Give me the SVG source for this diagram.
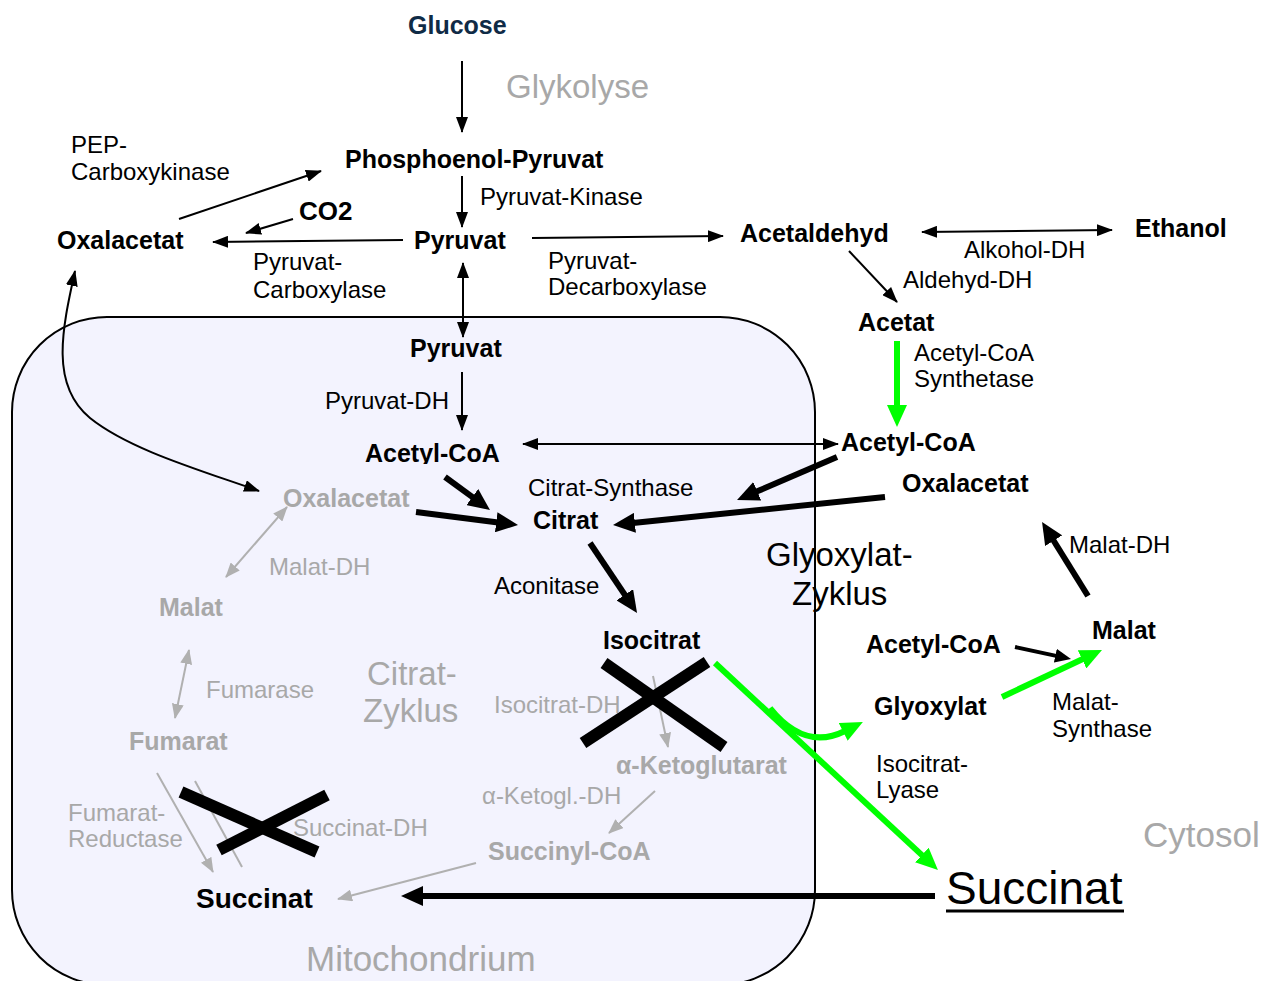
<svg xmlns="http://www.w3.org/2000/svg" width="1274" height="981" viewBox="0 0 1274 981">
  <style>
    text { font-family: "Liberation Sans", Arial, sans-serif; }
    .met { font-size: 25px; font-weight: bold; fill: #000; }
    .enz { font-size: 24px; fill: #000; }
    .title { font-size: 33px; fill: #000; }
    .grey { fill: #a8a8a8; }
    .thin { stroke: #000; stroke-width: 2; fill: none; }
    .thick { stroke: #000; stroke-width: 6; fill: none; }
    .mid { stroke: #000; stroke-width: 4; fill: none; }
    .green { stroke: #00ff00; stroke-width: 6; fill: none; }
    .gline { stroke: #b0b0b0; stroke-width: 2; fill: none; }
    .cross { stroke: #000; stroke-width: 12; }
  </style>
  <defs>
    <marker id="ah" markerUnits="userSpaceOnUse" markerWidth="16" markerHeight="12" refX="15" refY="6" orient="auto-start-reverse">
      <path d="M0,0 L16,6 L0,12 z" fill="#000"/>
    </marker>
    <marker id="ahGrey" markerUnits="userSpaceOnUse" markerWidth="15" markerHeight="12" refX="14" refY="6" orient="auto-start-reverse">
      <path d="M0,0 L15,6 L0,12 z" fill="#b0b0b0"/>
    </marker>
    <marker id="ahBold" markerUnits="userSpaceOnUse" markerWidth="22" markerHeight="20" refX="2" refY="10" orient="auto">
      <path d="M0,0 L22,10 L0,20 z" fill="#000"/>
    </marker>
    <marker id="ahMid" markerUnits="userSpaceOnUse" markerWidth="16" markerHeight="14" refX="2" refY="7" orient="auto">
      <path d="M0,0 L16,7 L0,14 z" fill="#000"/>
    </marker>
    <marker id="ahGreen" markerUnits="userSpaceOnUse" markerWidth="22" markerHeight="20" refX="2" refY="10" orient="auto">
      <path d="M0,0 L22,10 L0,20 z" fill="#00ff00"/>
    </marker>
    <clipPath id="clipAcoA">
      <rect x="350" y="430" width="170" height="34"/>
    </clipPath>
  </defs>

  <rect width="1274" height="981" fill="#fff"/>

  <!-- Mitochondrion compartment (runs off the lower edge) -->
  <g id="mitochondrium">
    <rect x="12" y="317" width="803" height="668" rx="95" ry="95" fill="#f3f3fe" stroke="#000" stroke-width="2"/>
    <text x="306" y="971" style="font-size:35px" class="grey">Mitochondrium</text>
  </g>

  <!-- Compartment / pathway titles -->
  <g id="titles">
    <text x="506" y="98" style="font-size:33px" class="grey">Glykolyse</text>
    <text x="1143" y="847" style="font-size:35px" class="grey">Cytosol</text>
    <text x="367" y="685" class="title grey">Citrat-</text>
    <text x="363" y="722" class="title grey">Zyklus</text>
    <text x="766" y="566" class="title">Glyoxylat-</text>
    <text x="792" y="605" class="title">Zyklus</text>
  </g>

  <!-- Connectors -->
  <g id="connectors">
    <!-- glycolysis and pyruvate branch points -->
    <line class="thin" x1="462" y1="61" x2="462" y2="132" marker-end="url(#ah)"/>
    <line class="thin" x1="462" y1="176" x2="462" y2="227" marker-end="url(#ah)"/>
    <line class="thin" x1="403" y1="240" x2="213" y2="242" marker-end="url(#ah)"/>
    <line class="thin" x1="293" y1="219" x2="246" y2="233" marker-end="url(#ah)"/>
    <line class="thin" x1="179" y1="219" x2="321" y2="171" marker-end="url(#ah)"/>
    <line class="thin" x1="532" y1="238" x2="723" y2="236" marker-end="url(#ah)"/>
    <line class="thin" x1="922" y1="232" x2="1112" y2="230" marker-start="url(#ah)" marker-end="url(#ah)"/>
    <line class="thin" x1="849" y1="251" x2="897" y2="302" marker-end="url(#ah)"/>
    <line class="thin" x1="463" y1="263" x2="463" y2="337" marker-start="url(#ah)" marker-end="url(#ah)"/>
    <line class="thin" x1="462" y1="372" x2="462" y2="430" marker-end="url(#ah)"/>
    <line class="thin" x1="523" y1="444" x2="838" y2="444" marker-start="url(#ah)" marker-end="url(#ah)"/>
    <path class="thin" d="M75,271 C62,330 50,385 90,418 C130,450 200,470 259,491" marker-start="url(#ah)" marker-end="url(#ah)"/>

    <!-- acetate activation -->
    <line class="green" x1="897" y1="341" x2="897" y2="407" marker-end="url(#ahGreen)"/>

    <!-- citrate synthesis -->
    <line class="thick" x1="445" y1="477" x2="473.9" y2="498.2" marker-end="url(#ahBold)"/>
    <line class="thick" x1="416" y1="512" x2="498.2" y2="522.5" marker-end="url(#ahBold)"/>
    <line class="thick" x1="837" y1="457" x2="755.4" y2="492.1" marker-end="url(#ahBold)"/>
    <line class="thick" x1="885" y1="497" x2="632.9" y2="523" marker-end="url(#ahBold)"/>
    <line class="thick" x1="590" y1="543" x2="625.9" y2="596.4" marker-end="url(#ahBold)"/>

    <!-- glyoxylate shunt -->
    <line class="green" x1="715" y1="663" x2="923.3" y2="856.4" marker-end="url(#ahGreen)"/>
    <path class="green" d="M770,708 C790,733 815,746 845,731" marker-end="url(#ahGreen)"/>
    <line class="green" x1="1002" y1="697" x2="1083.9" y2="658.5" marker-end="url(#ahGreen)"/>
    <line class="mid" x1="1015" y1="647" x2="1057.3" y2="656.1" marker-end="url(#ahMid)"/>
    <line class="thick" x1="1088" y1="596" x2="1052.6" y2="539" marker-end="url(#ahBold)"/>
    <line class="thick" x1="935" y1="896" x2="421" y2="896" marker-end="url(#ahBold)"/>

    <!-- inactive TCA steps -->
    <line class="gline" x1="287" y1="507" x2="226" y2="577" marker-start="url(#ahGrey)" marker-end="url(#ahGrey)"/>
    <line class="gline" x1="189" y1="650" x2="175" y2="718" marker-start="url(#ahGrey)" marker-end="url(#ahGrey)"/>
    <line class="gline" x1="157" y1="773" x2="213" y2="872" marker-end="url(#ahGrey)"/>
    <line class="gline" x1="195" y1="781" x2="242" y2="867"/>
    <line class="gline" x1="476" y1="863" x2="338" y2="899" marker-end="url(#ahGrey)"/>
    <line class="gline" x1="655" y1="791" x2="609" y2="833" marker-end="url(#ahGrey)"/>
    <line class="gline" x1="653" y1="676" x2="668" y2="747" marker-end="url(#ahGrey)"/>
  </g>

  <!-- Blocked reactions -->
  <g id="blocks">
    <line class="cross" x1="583" y1="743" x2="707" y2="662"/>
    <line class="cross" x1="604" y1="663" x2="724" y2="747"/>
    <line class="cross" x1="181" y1="792" x2="317" y2="852"/>
    <line class="cross" x1="219" y1="850" x2="327" y2="795"/>
  </g>

  <!-- Enzyme labels -->
  <g id="enzymes">
    <text class="enz" x="71" y="153">PEP-</text>
    <text class="enz" x="71" y="180">Carboxykinase</text>
    <text class="enz" x="480" y="205">Pyruvat-Kinase</text>
    <text class="enz" x="253" y="270">Pyruvat-</text>
    <text class="enz" x="253" y="298">Carboxylase</text>
    <text class="enz" x="548" y="269">Pyruvat-</text>
    <text class="enz" x="548" y="295">Decarboxylase</text>
    <text class="enz" x="964" y="258">Alkohol-DH</text>
    <text class="enz" x="903" y="288">Aldehyd-DH</text>
    <text class="enz" x="914" y="361">Acetyl-CoA</text>
    <text class="enz" x="914" y="387">Synthetase</text>
    <text class="enz" x="325" y="409">Pyruvat-DH</text>
    <text class="enz" x="528" y="496">Citrat-Synthase</text>
    <text class="enz" x="494" y="594">Aconitase</text>
    <text class="enz" x="1069" y="553">Malat-DH</text>
    <text class="enz" x="1052" y="710">Malat-</text>
    <text class="enz" x="1052" y="737">Synthase</text>
    <text class="enz" x="876" y="772">Isocitrat-</text>
    <text class="enz" x="876" y="798">Lyase</text>
    <text class="enz grey" x="269" y="575">Malat-DH</text>
    <text class="enz grey" x="206" y="698">Fumarase</text>
    <text class="enz grey" x="494" y="713">Isocitrat-DH</text>
    <text class="enz grey" x="482" y="804">α-Ketogl.-DH</text>
    <text class="enz grey" x="68" y="821">Fumarat-</text>
    <text class="enz grey" x="68" y="847">Reductase</text>
    <text class="enz grey" x="293" y="836">Succinat-DH</text>
  </g>

  <!-- Metabolites -->
  <g id="glucose"><text class="met" x="408" y="34" style="fill:#0f2b46">Glucose</text></g>
  <g id="pep"><text class="met" x="345" y="168">Phosphoenol-Pyruvat</text></g>
  <g id="co2"><text class="met" x="299" y="220" style="font-size:26px">CO2</text></g>
  <g id="oxalacetat-cyt-top"><text class="met" x="57" y="249">Oxalacetat</text></g>
  <g id="pyruvat-cyt"><text class="met" x="414" y="249">Pyruvat</text></g>
  <g id="acetaldehyd"><text class="met" x="740" y="242">Acetaldehyd</text></g>
  <g id="ethanol"><text class="met" x="1135" y="237">Ethanol</text></g>
  <g id="acetat"><text class="met" x="858" y="331">Acetat</text></g>
  <g id="pyruvat-mito"><text class="met" x="410" y="357">Pyruvat</text></g>
  <g id="acetylcoa-mito"><text class="met" x="365" y="462" clip-path="url(#clipAcoA)">Acetyl-CoA</text></g>
  <g id="acetylcoa-cyt"><text class="met" x="841" y="451">Acetyl-CoA</text></g>
  <g id="oxalacetat-cyt"><text class="met" x="902" y="492">Oxalacetat</text></g>
  <g id="oxalacetat-mito"><text class="met grey" x="283" y="507">Oxalacetat</text></g>
  <g id="citrat"><text class="met" x="533" y="529">Citrat</text></g>
  <g id="isocitrat"><text class="met" x="603" y="649">Isocitrat</text></g>
  <g id="malat-cyt"><text class="met" x="1092" y="639">Malat</text></g>
  <g id="acetylcoa-cyt2"><text class="met" x="866" y="653">Acetyl-CoA</text></g>
  <g id="glyoxylat"><text class="met" x="874" y="715">Glyoxylat</text></g>
  <g id="malat-mito"><text class="met grey" x="159" y="616">Malat</text></g>
  <g id="fumarat"><text class="met grey" x="129" y="750">Fumarat</text></g>
  <g id="ketoglutarat"><text class="met grey" x="616" y="774">α-Ketoglutarat</text></g>
  <g id="succinylcoa"><text class="met grey" x="488" y="860">Succinyl-CoA</text></g>
  <g id="succinat-mito"><text class="met" x="196" y="908" style="font-size:28px">Succinat</text></g>
  <g id="succinat-cyt">
    <text x="946" y="904" style="font-size:46px" fill="#000">Succinat</text>
    <line x1="946" y1="911" x2="1124" y2="911" stroke="#000" stroke-width="3"/>
  </g>
</svg>
